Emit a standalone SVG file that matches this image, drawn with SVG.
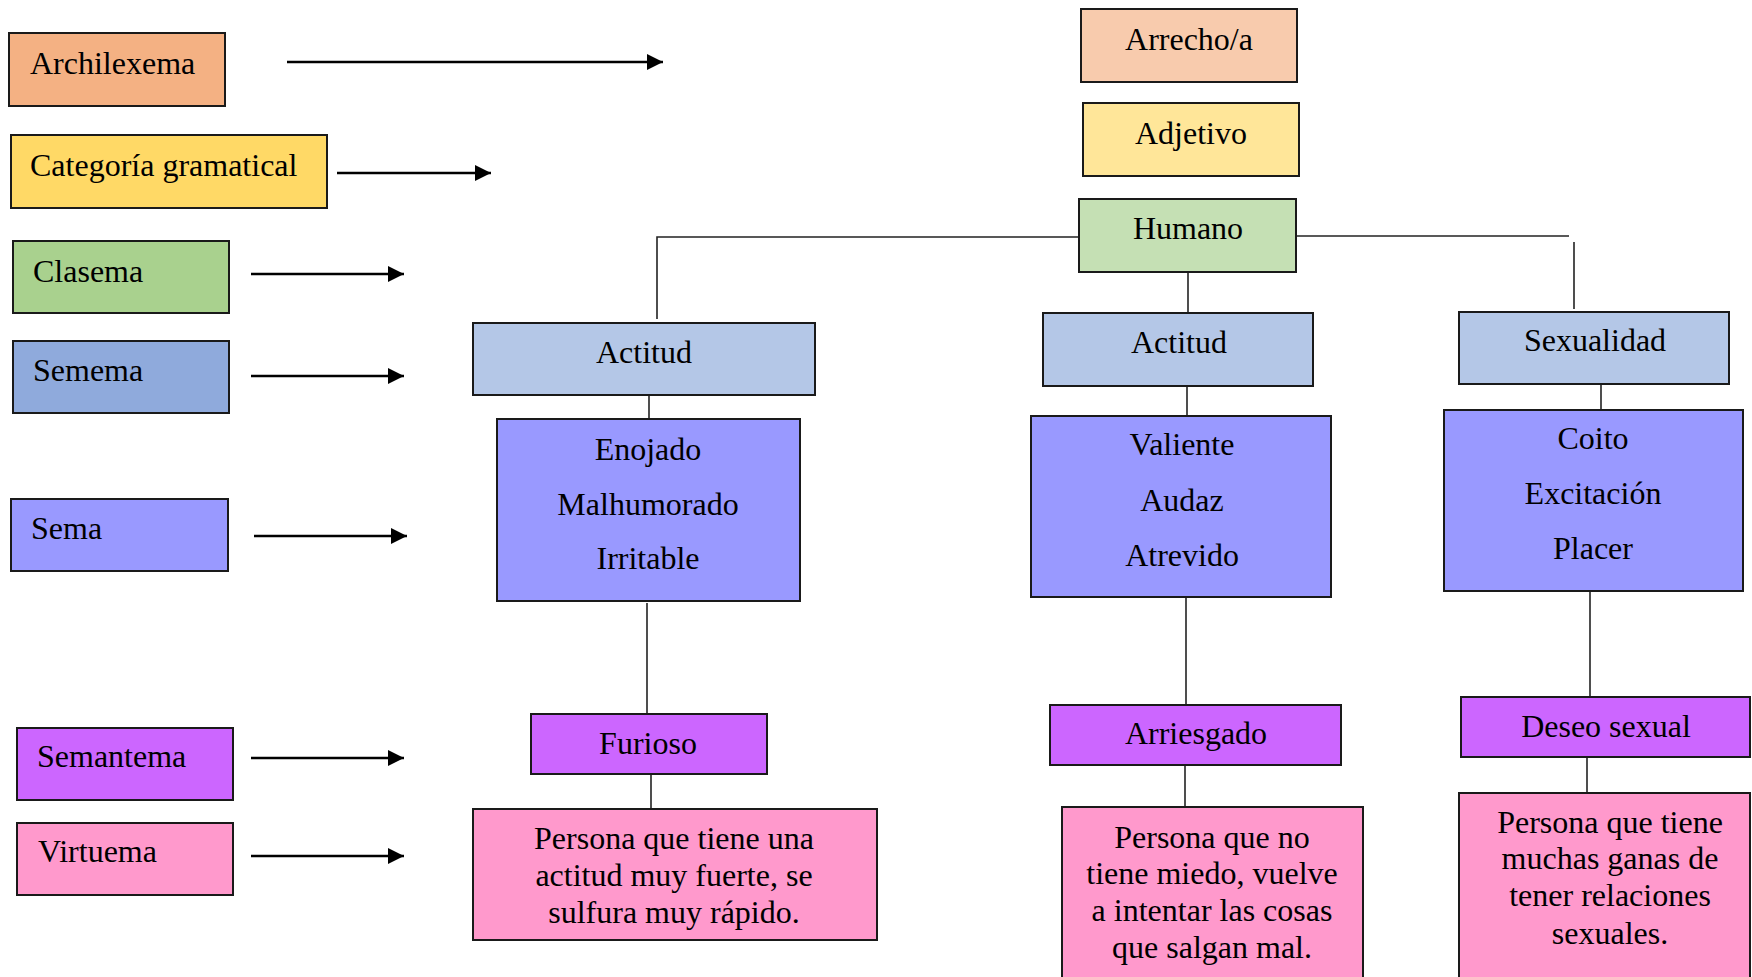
<svg xmlns="http://www.w3.org/2000/svg" width="1752" height="977" viewBox="0 0 1752 977">
  <style>
    .box { stroke: #1a1a1a; stroke-width: 2; }
    .t { font-family: "Liberation Serif", "Times New Roman", serif; font-size: 32px; fill: #000; }
    .c { text-anchor: middle; }
    .link { fill: none; stroke: #222; stroke-width: 1.6; }
    .arrow { fill: none; stroke: #000; stroke-width: 2.6; marker-end: url(#head); }
    .archi { fill: #F4B183; }
    .cat { fill: #FFD966; }
    .clas { fill: #A9D18E; }
    .seme { fill: #8FAADC; }
    .sema { fill: #9999FF; }
    .sant { fill: #CC66FF; }
    .virt { fill: #FF99CC; }
    .arrecho { fill: #F8CBAD; }
    .adj { fill: #FFE699; }
    .hum { fill: #C5E0B4; }
    .act { fill: #B4C7E7; }
  </style>
  <defs>
    <marker id="head" markerUnits="userSpaceOnUse" markerWidth="17" markerHeight="17" refX="16" refY="8" orient="auto">
      <path d="M0,0 L16,8 L0,16 Z" fill="#000"/>
    </marker>
  </defs>

  <rect width="1752" height="977" fill="#fff"/>

  <!-- legend column -->
  <g id="legend-archilexema">
    <rect class="box archi" x="9" y="33" width="216" height="73"/>
    <text class="t" x="30" y="74">Archilexema</text>
  </g>
  <g id="legend-categoria">
    <rect class="box cat" x="11" y="135" width="316" height="73"/>
    <text class="t" x="30" y="176">Categoría gramatical</text>
  </g>
  <g id="legend-clasema">
    <rect class="box clas" x="13" y="241" width="216" height="72"/>
    <text class="t" x="33" y="282">Clasema</text>
  </g>
  <g id="legend-semema">
    <rect class="box seme" x="13" y="341" width="216" height="72"/>
    <text class="t" x="33" y="381">Semema</text>
  </g>
  <g id="legend-sema">
    <rect class="box sema" x="11" y="499" width="217" height="72"/>
    <text class="t" x="31" y="539">Sema</text>
  </g>
  <g id="legend-semantema">
    <rect class="box sant" x="17" y="728" width="216" height="72"/>
    <text class="t" x="37" y="767">Semantema</text>
  </g>
  <g id="legend-virtuema">
    <rect class="box virt" x="17" y="823" width="216" height="72"/>
    <text class="t" x="38" y="862">Virtuema</text>
  </g>

  <!-- connectors -->
  <g id="connectors">
    <line class="arrow" x1="287" y1="62" x2="663" y2="62"/>
    <line class="arrow" x1="337" y1="173" x2="491" y2="173"/>
    <line class="arrow" x1="251" y1="274" x2="404" y2="274"/>
    <line class="arrow" x1="251" y1="376" x2="404" y2="376"/>
    <line class="arrow" x1="254" y1="536" x2="407" y2="536"/>
    <line class="arrow" x1="251" y1="758" x2="404" y2="758"/>
    <line class="arrow" x1="251" y1="856" x2="404" y2="856"/>

    <path class="link" d="M657,319 V237 H1079"/>
    <path class="link" d="M1297,236 H1569"/>
    <path class="link" d="M1574,242 V309"/>
    <path class="link" d="M1188,273 V313"/>
    <path class="link" d="M649,395 V419"/>
    <path class="link" d="M1187,386 V416"/>
    <path class="link" d="M1601,384 V410"/>
    <path class="link" d="M647,603 V714"/>
    <path class="link" d="M651,774 V809"/>
    <path class="link" d="M1186,597 V705"/>
    <path class="link" d="M1185,765 V807"/>
    <path class="link" d="M1590,591 V697"/>
    <path class="link" d="M1587,757 V793"/>
  </g>

  <!-- top of the tree -->
  <g id="arrecho">
    <rect class="box arrecho" x="1081" y="9" width="216" height="73"/>
    <text class="t c" x="1189" y="50">Arrecho/a</text>
  </g>
  <g id="adjetivo">
    <rect class="box adj" x="1083" y="103" width="216" height="73"/>
    <text class="t c" x="1191" y="144">Adjetivo</text>
  </g>
  <g id="humano">
    <rect class="box hum" x="1079" y="199" width="217" height="73"/>
    <text class="t c" x="1188" y="239">Humano</text>
  </g>

  <!-- sememe level -->
  <g id="actitud-1">
    <rect class="box act" x="473" y="323" width="342" height="72"/>
    <text class="t c" x="644" y="363">Actitud</text>
  </g>
  <g id="actitud-2">
    <rect class="box act" x="1043" y="313" width="270" height="73"/>
    <text class="t c" x="1179" y="353">Actitud</text>
  </g>
  <g id="sexualidad">
    <rect class="box act" x="1459" y="312" width="270" height="72"/>
    <text class="t c" x="1595" y="351">Sexualidad</text>
  </g>

  <!-- semes -->
  <g id="semas-1">
    <rect class="box sema" x="497" y="419" width="303" height="182"/>
    <text class="t c" x="648" y="460">Enojado</text>
    <text class="t c" x="648" y="515">Malhumorado</text>
    <text class="t c" x="648" y="569">Irritable</text>
  </g>
  <g id="semas-2">
    <rect class="box sema" x="1031" y="416" width="300" height="181"/>
    <text class="t c" x="1182" y="455">Valiente</text>
    <text class="t c" x="1182" y="511">Audaz</text>
    <text class="t c" x="1182" y="566">Atrevido</text>
  </g>
  <g id="semas-3">
    <rect class="box sema" x="1444" y="410" width="299" height="181"/>
    <text class="t c" x="1593" y="449">Coito</text>
    <text class="t c" x="1593" y="504">Excitación</text>
    <text class="t c" x="1593" y="559">Placer</text>
  </g>

  <!-- semantemes -->
  <g id="furioso">
    <rect class="box sant" x="531" y="714" width="236" height="60"/>
    <text class="t c" x="648" y="754">Furioso</text>
  </g>
  <g id="arriesgado">
    <rect class="box sant" x="1050" y="705" width="291" height="60"/>
    <text class="t c" x="1196" y="744">Arriesgado</text>
  </g>
  <g id="deseo-sexual">
    <rect class="box sant" x="1461" y="697" width="289" height="60"/>
    <text class="t c" x="1606" y="737">Deseo sexual</text>
  </g>

  <!-- virtuemes -->
  <g id="virtuema-1">
    <rect class="box virt" x="473" y="809" width="404" height="131"/>
    <text class="t c" x="674" y="849">Persona que tiene una</text>
    <text class="t c" x="674" y="886">actitud muy fuerte, se</text>
    <text class="t c" x="674" y="923">sulfura muy rápido.</text>
  </g>
  <g id="virtuema-2">
    <rect class="box virt" x="1062" y="807" width="301" height="185"/>
    <text class="t c" x="1212" y="848">Persona que no</text>
    <text class="t c" x="1212" y="884">tiene miedo, vuelve</text>
    <text class="t c" x="1212" y="921">a intentar las cosas</text>
    <text class="t c" x="1212" y="958">que salgan mal.</text>
  </g>
  <g id="virtuema-3">
    <rect class="box virt" x="1459" y="793" width="291" height="199"/>
    <text class="t c" x="1610" y="833">Persona que tiene</text>
    <text class="t c" x="1610" y="869">muchas ganas de</text>
    <text class="t c" x="1610" y="906">tener relaciones</text>
    <text class="t c" x="1610" y="944">sexuales.</text>
  </g>
</svg>
